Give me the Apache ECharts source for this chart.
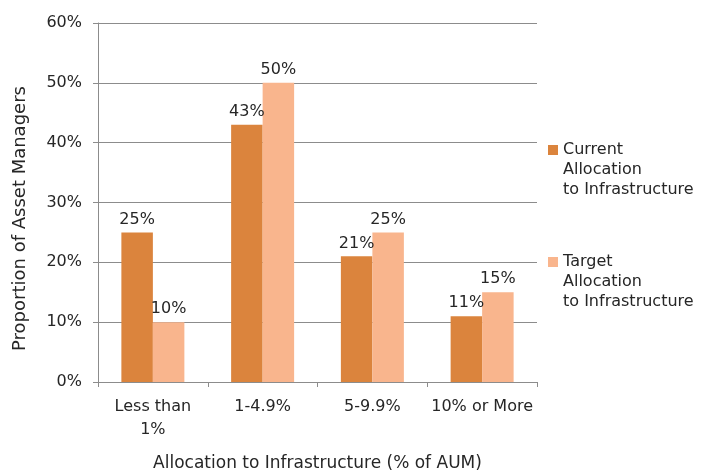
<!DOCTYPE html>
<html>
<head>
<meta charset="utf-8">
<script src="https://cdn.jsdelivr.net/npm/echarts@6/dist/echarts.min.js"></script>
<style>html,body{margin:0;padding:0;background:#fff;}#c{width:703px;height:473px;}</style>
</head>
<body>
<div id="c"></div>
<script>
const categories = ['Less than\n1%', '1-4.9%', '5-9.9%', '10% or More'];
const currentAllocation = [25, 43, 21, 11];
const targetAllocation = [10, 50, 25, 15];
const seriesNames = ['Current\nAllocation\nto Infrastructure', 'Target\nAllocation\nto Infrastructure'];
const yTicks = [0, 10, 20, 30, 40, 50, 60];

const FONT = 'DejaVu Sans';
const TXT = '#262626';
const chart = echarts.init(document.getElementById('c'), null, {renderer: 'canvas'});
chart.setOption({
  animation: false,
  textStyle: {fontFamily: FONT, color: TXT},
  grid: {left: 98, right: 166, top: 23, bottom: 91, containLabel: false, outerBoundsMode: 'none'},
  legend: {
    orient: 'vertical',
    left: 548, top: 100,
    padding: 0,
    itemWidth: 10, itemHeight: 10, itemGap: 12,
    icon: 'rect',
    textStyle: {fontFamily: FONT, fontSize: 16, color: TXT, lineHeight: 20},
    formatter: n => '\n\n' + n,
    data: seriesNames
  },
  xAxis: {
    type: 'category',
    data: categories,
    name: 'Allocation to Infrastructure (% of AUM)',
    nameLocation: 'middle',
    nameGap: 73,
    nameTextStyle: {fontFamily: FONT, fontSize: 17, color: TXT},
    axisLine: {lineStyle: {color: '#8c8c8c', width: 1}},
    axisTick: {show: true, length: 5, lineStyle: {color: '#8c8c8c'}},
    axisLabel: {fontFamily: FONT, fontSize: 16, color: TXT, lineHeight: 23, margin: 13, interval: 0}
  },
  yAxis: {
    type: 'value',
    min: yTicks[0], max: yTicks[yTicks.length - 1], interval: 10,
    name: 'Proportion of Asset Managers',
    nameLocation: 'middle',
    nameGap: 69,
    nameTextStyle: {fontFamily: FONT, fontSize: 18, color: TXT, padding: [0, 32, 0, 0]},
    axisLine: {show: true, lineStyle: {color: '#8c8c8c', width: 1}},
    axisTick: {show: true, length: 5, lineStyle: {color: '#8c8c8c'}},
    axisLabel: {fontFamily: FONT, fontSize: 16, color: TXT, margin: 16, formatter: v => v + '%'},
    splitLine: {show: true, lineStyle: {color: '#8c8c8c', width: 1}}
  },
  series: [
    {
      name: seriesNames[0], type: 'bar', data: currentAllocation,
      barGap: '0%', barCategoryGap: '42.6%',
      itemStyle: {color: '#DB843D'},
      label: {show: true, position: 'top', distance: 5, fontFamily: FONT, fontSize: 16, color: TXT, formatter: p => p.value + '%'}
    },
    {
      name: seriesNames[1], type: 'bar', data: targetAllocation,
      barGap: '0%', barCategoryGap: '42.6%',
      itemStyle: {color: '#F9B58D'},
      label: {show: true, position: 'top', distance: 5, fontFamily: FONT, fontSize: 16, color: TXT, formatter: p => p.value + '%'}
    }
  ]
});
</script>
</body>
</html>
